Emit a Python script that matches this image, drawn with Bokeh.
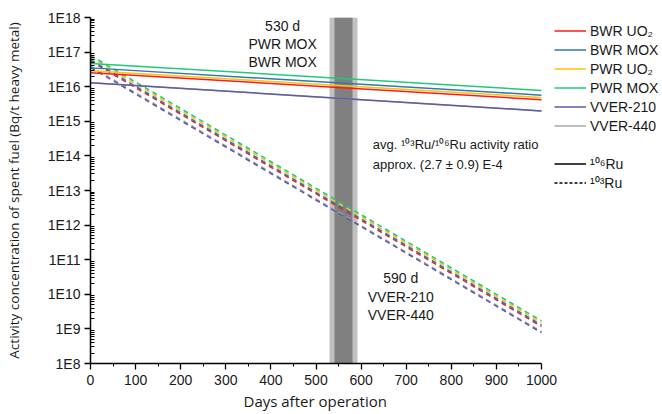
from bokeh.plotting import figure
from bokeh.models import (FixedTicker, CustomJSTickFormatter, Label, Legend,
                          LegendItem, BoxAnnotation, Range1d, Title)
from bokeh.embed import file_html
from bokeh.resources import INLINE

# ---------------- data ----------------
days = [0, 1000]
series = ["BWR UO\u2082", "BWR MOX", "PWR UO\u2082", "PWR MOX", "VVER-210", "VVER-440"]
colors = ["#ff1a1a", "#2e79b2", "#ffc20e", "#1fca78", "#5c5ca8", "#a8a8a8"]
ru106_start = [2.55e16, 3.5e16, 2.9e16, 4.7e16, 1.3e16, 1.3e16]
ru106_end = [4.2e15, 5.7e15, 4.9e15, 7.8e15, 2.0e15, 2.0e15]
ru103_start = [5.5e16, 6.0e16, 7.0e16, 8.0e16, 3.6e16, 3.9e16]
ru103_end = [1.18e9, 1.3e9, 1.5e9, 1.7e9, 0.78e9, 0.83e9]
draw_order = [5, 4, 0, 1, 2, 3]

band_outer = (530, 592)
band_inner = (541, 581)

x_ticks = [0, 100, 200, 300, 400, 500, 600, 700, 800, 900, 1000]
x_minor = [50, 150, 250, 350, 450, 550, 650, 750, 850, 950]
y_ticks = [1e8, 1e9, 1e10, 1e11, 1e12, 1e13, 1e14, 1e15, 1e16, 1e17, 1e18]
y_tick_labels = ["1E8", "1E9", "1E10", "1E11", "1E12", "1E13", "1E14",
                 "1E15", "1E16", "1E17", "1E18"]
y_minor = [m * t for t in y_ticks[:-1] for m in range(2, 10)]

TICK_FONT = "Liberation Sans"
TITLE_FONT = "Open Sans"
TXT = "#1a1a1a"
NAN = float("nan")

# frame spans to the right page edge; the axis itself is bounded to 0..1000
FRAME_W = 572
AXIS_W = 451
x_end = 1000 * FRAME_W / AXIS_W

p = figure(width=662, height=414, output_backend="svg", toolbar_location=None,
           x_range=Range1d(0, x_end), y_range=(1e8, 1e18), y_axis_type="log",
           min_border_left=90, min_border_top=17, min_border_bottom=51,
           min_border_right=0)
p.outline_line_color = None
p.grid.visible = False
p.background_fill_color = "white"

# bands
p.add_layout(BoxAnnotation(left=band_outer[0], right=band_outer[1],
                           fill_color="#c0c0c0", fill_alpha=1, line_color=None,
                           level="underlay"))
p.add_layout(BoxAnnotation(left=band_inner[0], right=band_inner[1],
                           fill_color="#808080", fill_alpha=1, line_color=None,
                           level="underlay"))

renderers = {}
for i in draw_order:
    p.line(days, [ru103_start[i], ru103_end[i]], line_color=colors[i],
           line_width=1.6, line_dash="5 4")
for i in draw_order:
    r = p.line(days, [ru106_start[i], ru106_end[i]], line_color=colors[i],
               line_width=1.5)
    renderers[i] = r

blank = p.line([NAN, NAN], [NAN, NAN], line_alpha=0)
solid_k = p.line([NAN, NAN], [NAN, NAN], line_color="black", line_width=1.3)
dash_k = p.line([NAN, NAN], [NAN, NAN], line_color="black", line_width=1.3,
                line_dash="3 2")

items = [LegendItem(label=series[i], renderers=[renderers[i]]) for i in range(6)]
items.append(LegendItem(label=" ", renderers=[blank]))
items.append(LegendItem(label="\u00b9\u2070\u2076Ru", renderers=[solid_k]))
items.append(LegendItem(label="\u00b9\u2070\u00b3Ru", renderers=[dash_k]))

legend = Legend(items=items, location=(464, 171), orientation="vertical",
                glyph_width=32, glyph_height=19, label_height=19, spacing=0,
                padding=2, margin=0, label_standoff=4,
                label_text_font=TICK_FONT, label_text_font_size="14px",
                label_text_color=TXT, border_line_color=None,
                background_fill_alpha=0)
p.add_layout(legend, "center")

# axes
xa = p.xaxis[0]
xa.bounds = (0, 1000)
xa.ticker = FixedTicker(ticks=x_ticks, minor_ticks=x_minor)
xa.major_label_text_font = TICK_FONT
xa.major_label_text_font_size = "14px"
xa.major_label_text_color = TXT
xa.major_label_standoff = 5
xa.axis_line_width = 1.5
xa.major_tick_out = 6
xa.major_tick_in = 0
xa.minor_tick_out = 3
xa.minor_tick_in = 0
xa.major_tick_line_width = 1.3

# x-axis title placed under the middle of the 0..1000 axis
p.add_layout(Title(text="Days after operation", align="left", offset=153,
                   text_font=TITLE_FONT, text_font_size="15px",
                   text_font_style="normal", text_color=TXT, standoff=2),
             "below")

ya = p.yaxis[0]
ya.ticker = FixedTicker(ticks=y_ticks, minor_ticks=y_minor)
ya.formatter = CustomJSTickFormatter(args=dict(tvals=y_ticks, tlabels=y_tick_labels), code="""
for (let i = 0; i < tvals.length; i++) {
  if (Math.abs(Math.log10(tvals[i] / tick)) < 1e-6) return tlabels[i];
}
return '';
""")
ya.axis_label = "Activity concentration of spent fuel (Bq/t heavy metal)"
ya.axis_label_text_font = TITLE_FONT
ya.axis_label_text_font_size = "13.5px"
ya.axis_label_text_font_style = "normal"
ya.axis_label_text_color = TXT
ya.axis_label_standoff = 22
ya.major_label_text_font = TICK_FONT
ya.major_label_text_font_size = "14px"
ya.major_label_text_color = TXT
ya.major_label_standoff = 4
ya.axis_line_width = 1.5
ya.major_tick_out = 6
ya.major_tick_in = 0
ya.minor_tick_out = 0
ya.minor_tick_in = 4
ya.major_tick_line_width = 1.3

# annotations
def add_text(x, y, text, align="center", size="14px"):
    p.add_layout(Label(x=x, y=y, text=text, text_align=align,
                       text_baseline="middle", text_font=TICK_FONT,
                       text_font_size=size, text_color=TXT))

note_upper = ["530 d", "PWR MOX", "BWR MOX"]
note_upper_y = [10**17.74, 10**17.22, 10**16.70]
for t, y in zip(note_upper, note_upper_y):
    add_text(426, y, t)

note_lower = ["590 d", "VVER-210", "VVER-440"]
note_lower_y = [10**10.457, 10**9.93, 10**9.416]
for t, y in zip(note_lower, note_lower_y):
    add_text(688, y, t)

ratio_text = ["avg. \u00b9\u2070\u00b3Ru/\u00b9\u2070\u2076Ru activity ratio",
              "approx. (2.7 \u00b1 0.9) E-4"]
ratio_y = [10**14.33, 10**13.75]
for t, y in zip(ratio_text, ratio_y):
    add_text(626, y, t, align="left", size="13px")

open("out.html", "w").write(file_html(p, INLINE))
